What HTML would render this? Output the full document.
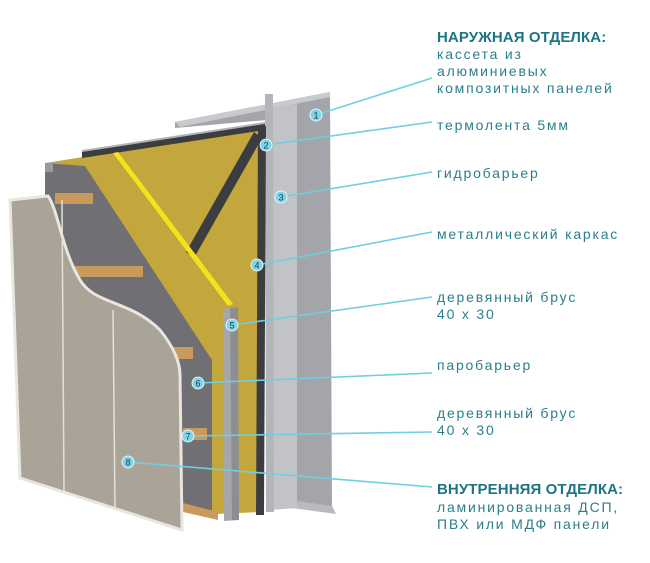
<!DOCTYPE html>
<html><head><meta charset="utf-8"><style>
html,body{margin:0;padding:0;background:#fff;}
body{width:650px;height:563px;overflow:hidden;position:relative;font-family:"Liberation Sans",sans-serif;}
svg{position:absolute;left:0;top:0;}
.t{position:absolute;left:437px;color:#2a7f8a;font-size:14px;letter-spacing:1.8px;line-height:17px;white-space:nowrap;}
.h{font-weight:bold;font-size:15px;letter-spacing:0.1px;color:#1e7482;}
</style></head><body>
<svg width="650" height="563" viewBox="0 0 650 563">
  <polygon points="175,122 330,92 332,512 290,505 290,118 175,128" fill="#a3a5aa"/>
  <polygon points="175,122 330,92 330,97 180,127" fill="#c8cacd"/>
  <polygon points="290,500 332,506 336,514 292,508" fill="#b8babd"/>
  <polygon points="270,108 297,104 297,508 270,510" fill="#c1c3c6"/>
  <polygon points="265,94 273,94 274,512 266,512" fill="#b3b5b8"/>
  <polygon points="82,150 265,122 265,128 82,156" fill="#b0b2b5"/>
  <polygon points="52,162 262,128 260,512 215,514 52,300" fill="#c4a73c"/>
  <polygon points="82,152 265,124 265,130 82,158" fill="#3c3d40"/>
  <polygon points="258,128 266,126 264,515 256,515" fill="#3c3d40"/>
  <polygon points="254,132 262,138 194,258 186,252" fill="#3c3d40"/>
  <polygon points="113,153 118,152 233,304 228,306" fill="#f3e21c"/>
  <polygon points="45,163 85,166 212,360 212,512 182,512 45,468" fill="#707074"/>
  <polygon points="45,163 53,162 53,172 45,172" fill="#9a9a9c"/>
  <polygon points="223,309 238,307 239,520 224,521" fill="#a5a7aa"/>
  <polygon points="230,308 238,307 239,520 232,520" fill="#8c8e91"/>
  <g fill="#c99a5c">
    <rect x="55" y="193" width="38" height="11"/>
    <rect x="73" y="266" width="70" height="11"/>
    <rect x="168" y="347" width="25" height="12"/>
    <rect x="183" y="428" width="24" height="12"/>
    <polygon points="183,503 218,512 218,520 183,512"/>
  </g>
  <path d="M10,200 L48,196 C58,210 62,250 80,280 C95,305 130,300 160,330 C172,345 180,360 180,375 L182,530 L20,478 Z" fill="#a9a398" stroke="#e8e6df" stroke-width="3"/>
  <line x1="62" y1="200" x2="64" y2="492" stroke="#e3e0d8" stroke-width="1.5"/>
  <line x1="113" y1="310" x2="115" y2="508" stroke="#e3e0d8" stroke-width="1.5"/>
  <g stroke="#6fcfe2" stroke-width="1.6">
    <line x1="316" y1="115" x2="432" y2="78"/>
    <line x1="266" y1="145" x2="432" y2="122"/>
    <line x1="281" y1="197" x2="432" y2="172"/>
    <line x1="257" y1="265" x2="432" y2="232"/>
    <line x1="232" y1="325" x2="432" y2="297"/>
    <line x1="198" y1="383" x2="432" y2="373"/>
    <line x1="188" y1="436" x2="432" y2="432"/>
    <line x1="128" y1="462" x2="432" y2="487"/>
  </g>
  <g fill="#7fd5e7" stroke="#ffffff" stroke-width="0.8">
    <circle cx="316" cy="115" r="6"/><circle cx="266" cy="145" r="6"/>
    <circle cx="281" cy="197" r="6"/><circle cx="257" cy="265" r="6"/>
    <circle cx="232" cy="325" r="6"/><circle cx="198" cy="383" r="6"/>
    <circle cx="188" cy="436" r="6"/><circle cx="128" cy="462" r="6"/>
  </g>
  <g font-family="Liberation Sans,sans-serif" font-size="9" fill="#1c3a44" text-anchor="middle">
    <text x="316" y="118.5">1</text><text x="266" y="148.5">2</text>
    <text x="281" y="200.5">3</text><text x="257" y="268.5">4</text>
    <text x="232" y="328.5">5</text><text x="198" y="386.5">6</text>
    <text x="188" y="439.5">7</text><text x="128" y="465.5">8</text>
  </g>
</svg>
<div class="t h" style="top:29px;">НАРУЖНАЯ ОТДЕЛКА:</div>
<div class="t" style="top:46px;">кассета из<br>алюминиевых<br>композитных панелей</div>
<div class="t" style="top:117px;">термолента 5мм</div>
<div class="t" style="top:165px;">гидробарьер</div>
<div class="t" style="top:226px;">металлический каркас</div>
<div class="t" style="top:289px;">деревянный брус<br>40 х 30</div>
<div class="t" style="top:357px;">паробарьер</div>
<div class="t" style="top:405px;">деревянный брус<br>40 х 30</div>
<div class="t h" style="top:481px;">ВНУТРЕННЯЯ ОТДЕЛКА:</div>
<div class="t" style="top:499px;">ламинированная ДСП,<br>ПВХ или МДФ панели</div>
</body></html>
